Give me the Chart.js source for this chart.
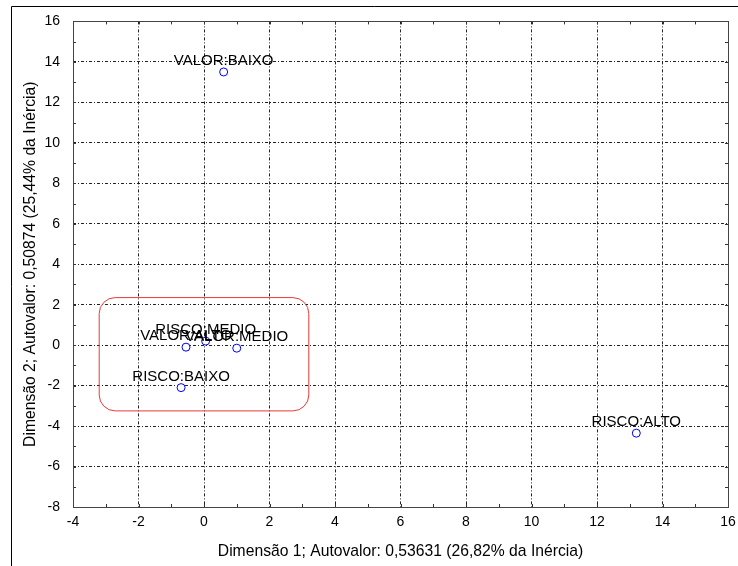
<!DOCTYPE html>
<html>
<head>
<meta charset="utf-8">
<script src="https://cdn.jsdelivr.net/npm/chart.js@4.4.0/dist/chart.umd.min.js"></script>
<style>
  html, body { margin: 0; padding: 0; background: #fff; }
  #wrap { width: 738px; height: 566px; position: relative; }
</style>
</head>
<body>
<div id="wrap"><canvas id="caChart"></canvas></div>
<script>
// coordinates of the categories on the two dimensions
const pointLabels = ["VALOR:BAIXO", "VALOR:ALTO", "RISCO:MEDIO", "VALOR:MEDIO", "RISCO:BAIXO", "RISCO:ALTO"];
const dim1 = [0.6, -0.55, 0.05, 1.0, -0.7, 13.2];
const dim2 = [13.5, -0.1, 0.2, -0.15, -2.1, -4.35];

const xTitle = "Dimensão 1; Autovalor: 0,53631 (26,82% da Inércia)";
const yTitle = "Dimensão 2; Autovalor: 0,50874 (25,44% da Inércia)";

// red rounded box around the cluster near the origin (data units)
const clusterBox = { xMin: -3.2, xMax: 3.2, yMin: -3.25, yMax: 2.35 };

const FONT = "'Liberation Sans', Arial, sans-serif";

const framePlugin = {
    id: "frame",
    beforeDraw(chart) {
        const ctx = chart.ctx;
        ctx.save();
        ctx.fillStyle = "#fff";
        ctx.fillRect(0, 0, chart.width, chart.height);
        // outer frame (left + top only visible)
        ctx.strokeStyle = "#000";
        ctx.lineWidth = 1;
        ctx.beginPath();
        ctx.moveTo(11.5, chart.height);
        ctx.lineTo(11.5, 6.5);
        ctx.lineTo(chart.width, 6.5);
        ctx.stroke();
        ctx.restore();
    },
    afterDatasetsDraw(chart) {
        const ctx = chart.ctx;
        const area = chart.chartArea;
        const xs = chart.scales.x;
        const ys = chart.scales.y;
        ctx.save();

        // minor ticks on all four sides
        ctx.strokeStyle = "#333";
        ctx.lineWidth = 1;
        ctx.beginPath();
        for (let v = xs.min; v <= xs.max; v++) {
            const px = Math.round(xs.getPixelForValue(v)) + 0.5;
            ctx.moveTo(px, area.bottom); ctx.lineTo(px, area.bottom - 3);
            ctx.moveTo(px, area.top); ctx.lineTo(px, area.top + 3);
        }
        for (let v = ys.min; v <= ys.max; v++) {
            const py = Math.round(ys.getPixelForValue(v)) + 0.5;
            ctx.moveTo(area.left, py); ctx.lineTo(area.left + 3, py);
            ctx.moveTo(area.right, py); ctx.lineTo(area.right - 3, py);
        }
        ctx.stroke();

        // plot border
        ctx.strokeStyle = "#444";
        ctx.strokeRect(Math.round(area.left) + 0.5, Math.round(area.top) + 0.5,
            Math.round(area.right - area.left), Math.round(area.bottom - area.top));

        // cluster box
        const bx1 = xs.getPixelForValue(clusterBox.xMin);
        const bx2 = xs.getPixelForValue(clusterBox.xMax);
        const by1 = ys.getPixelForValue(clusterBox.yMax);
        const by2 = ys.getPixelForValue(clusterBox.yMin);
        ctx.strokeStyle = "#e83a3a";
        ctx.beginPath();
        ctx.roundRect(bx1, by1, bx2 - bx1, by2 - by1, 16);
        ctx.stroke();

        // point labels, centred above each marker
        ctx.font = "15px " + FONT;
        ctx.fillStyle = "#000";
        ctx.textAlign = "center";
        ctx.textBaseline = "alphabetic";
        chart.getDatasetMeta(0).data.forEach((pt, i) => {
            ctx.fillText(pointLabels[i], pt.x, pt.y - 7);
        });
        ctx.restore();
    }
};

function initializeChart() {
    const ctx = document.getElementById("caChart").getContext("2d");
    new Chart(ctx, {
        type: "scatter",
        data: {
            labels: pointLabels,
            datasets: [{
                data: dim1.map((x, i) => ({ x: x, y: dim2[i] })),
                pointStyle: "circle",
                pointRadius: 4,
                pointBorderWidth: 1,
                pointBorderColor: "#0000ff",
                pointBackgroundColor: "#fff",
                pointHoverRadius: 4
            }]
        },
        options: {
            responsive: true,
            maintainAspectRatio: false,
            animation: false,
            layout: { padding: { left: 21, right: 10, top: 21, bottom: 5 } },
            plugins: {
                legend: { display: false },
                tooltip: { enabled: false }
            },
            scales: {
                x: {
                    type: "linear",
                    min: -4,
                    max: 16,
                    afterFit: (scale) => {
                        scale.height = 54;
                        scale.paddingLeft = 0;
                        scale.paddingRight = 0;
                    },
                    ticks: {
                        stepSize: 2,
                        padding: 7,
                        color: "#000",
                        font: { size: 14, family: FONT }
                    },
                    grid: { color: "#222", lineWidth: 1, drawTicks: false },
                    border: { display: false, dash: [3, 2, 1, 2] },
                    title: {
                        display: true,
                        text: xTitle,
                        color: "#000",
                        padding: 0,
                        font: { size: 15.7, family: FONT }
                    }
                },
                y: {
                    type: "linear",
                    min: -8,
                    max: 16,
                    afterFit: (scale) => { scale.width = 52; },
                    ticks: {
                        stepSize: 2,
                        padding: 13,
                        color: "#000",
                        font: { size: 14, family: FONT }
                    },
                    grid: { color: "#222", lineWidth: 1, drawTicks: false },
                    border: { display: false, dash: [3, 2, 1, 2] },
                    title: {
                        display: true,
                        text: yTitle,
                        color: "#000",
                        padding: 0,
                        font: { size: 15.7, family: FONT }
                    }
                }
            }
        },
        plugins: [framePlugin]
    });
}

window.onload = function () {
    initializeChart();
};
</script>
</body>
</html>
